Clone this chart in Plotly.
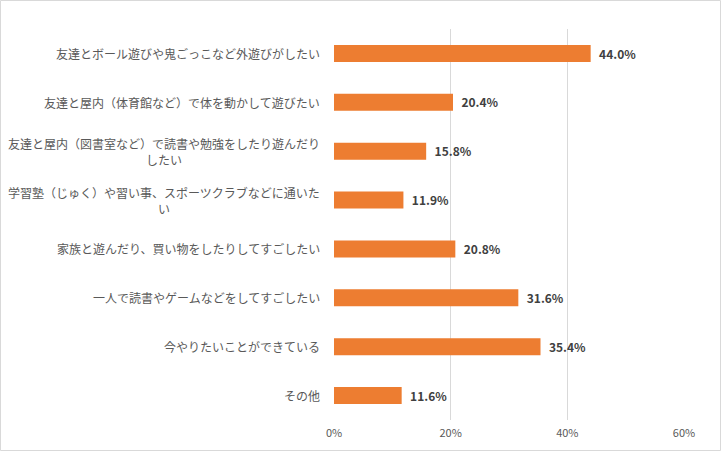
import plotly.graph_objects as go

# data
CATEGORIES = [
    "友達とボール遊びや鬼ごっこなど外遊びがしたい",
    "友達と屋内（体育館など）で体を動かして遊びたい",
    "友達と屋内（図書室など）で読書や勉強をしたり遊んだり<br>したい",
    "学習塾（じゅく）や習い事、スポーツクラブなどに通いた<br>い",
    "家族と遊んだり、買い物をしたりしてすごしたい",
    "一人で読書やゲームなどをしてすごしたい",
    "今やりたいことができている",
    "その他",
]
VALUES = [44.0, 20.4, 15.8, 11.9, 20.8, 31.6, 35.4, 11.6]
X_TICKS = [0, 20, 40, 60]

# style
WIDTH, HEIGHT = 721, 451
MARGIN = dict(l=334, r=37, t=29, b=31)
BAR_COLOUR = "#ED7D31"
GRID_COLOUR = "#D9D9D9"
TEXT_COLOUR = "#595959"
LABEL_COLOUR = "#404040"
FONT = "Noto Sans CJK JP"

fig = go.Figure()
fig.add_trace(go.Bar(
    x=VALUES,
    y=list(range(len(CATEGORIES))),
    orientation="h",
    marker=dict(color=BAR_COLOUR, line=dict(width=0)),
    width=0.35,
    text=[f"  {v:.1f}%" for v in VALUES],
    textposition="outside",
    textfont=dict(family=FONT, size=14, color=LABEL_COLOUR, weight="bold"),
    cliponaxis=False,
    hoverinfo="skip",
))

# category labels, centred lines like the original
for i, cat in enumerate(CATEGORIES):
    fig.add_annotation(
        xref="paper", yref="y", x=0, y=i, xshift=-12,
        text=cat, showarrow=False, xanchor="right", yanchor="middle",
        align="center", font=dict(family=FONT, size=12, color=TEXT_COLOUR),
    )

plot_w = WIDTH - MARGIN["l"] - MARGIN["r"]
plot_h = HEIGHT - MARGIN["t"] - MARGIN["b"]
# outer border of the chart area
fig.add_shape(
    type="rect", xref="paper", yref="paper",
    x0=(0.5 - MARGIN["l"]) / plot_w, x1=(WIDTH - 0.5 - MARGIN["l"]) / plot_w,
    y0=(0.5 - MARGIN["b"]) / plot_h, y1=(HEIGHT - 0.5 - MARGIN["b"]) / plot_h,
    line=dict(color=GRID_COLOUR, width=1), fillcolor="rgba(0,0,0,0)", layer="above",
)

fig.update_layout(
    width=WIDTH, height=HEIGHT, margin=MARGIN,
    plot_bgcolor="white", paper_bgcolor="white",
    showlegend=False, bargap=0.65,
    font=dict(family=FONT, color=TEXT_COLOUR),
)
fig.update_xaxes(
    range=[0, 60], tickvals=X_TICKS, ticktext=[f"{t}%" for t in X_TICKS],
    showgrid=True, gridcolor=GRID_COLOUR, gridwidth=1, zeroline=False,
    showline=False, ticks="", tickfont=dict(size=11, color=TEXT_COLOUR),
    ticklabelstandoff=5, fixedrange=True,
)
fig.update_yaxes(
    range=[len(CATEGORIES) - 0.5, -0.5], showticklabels=False,
    showgrid=False, zeroline=False, ticks="", fixedrange=True,
)

fig.write_html(
    "out.html",
    config={"displayModeBar": False},
    post_script="document.body.style.margin='0';document.body.style.overflow='hidden';",
)
